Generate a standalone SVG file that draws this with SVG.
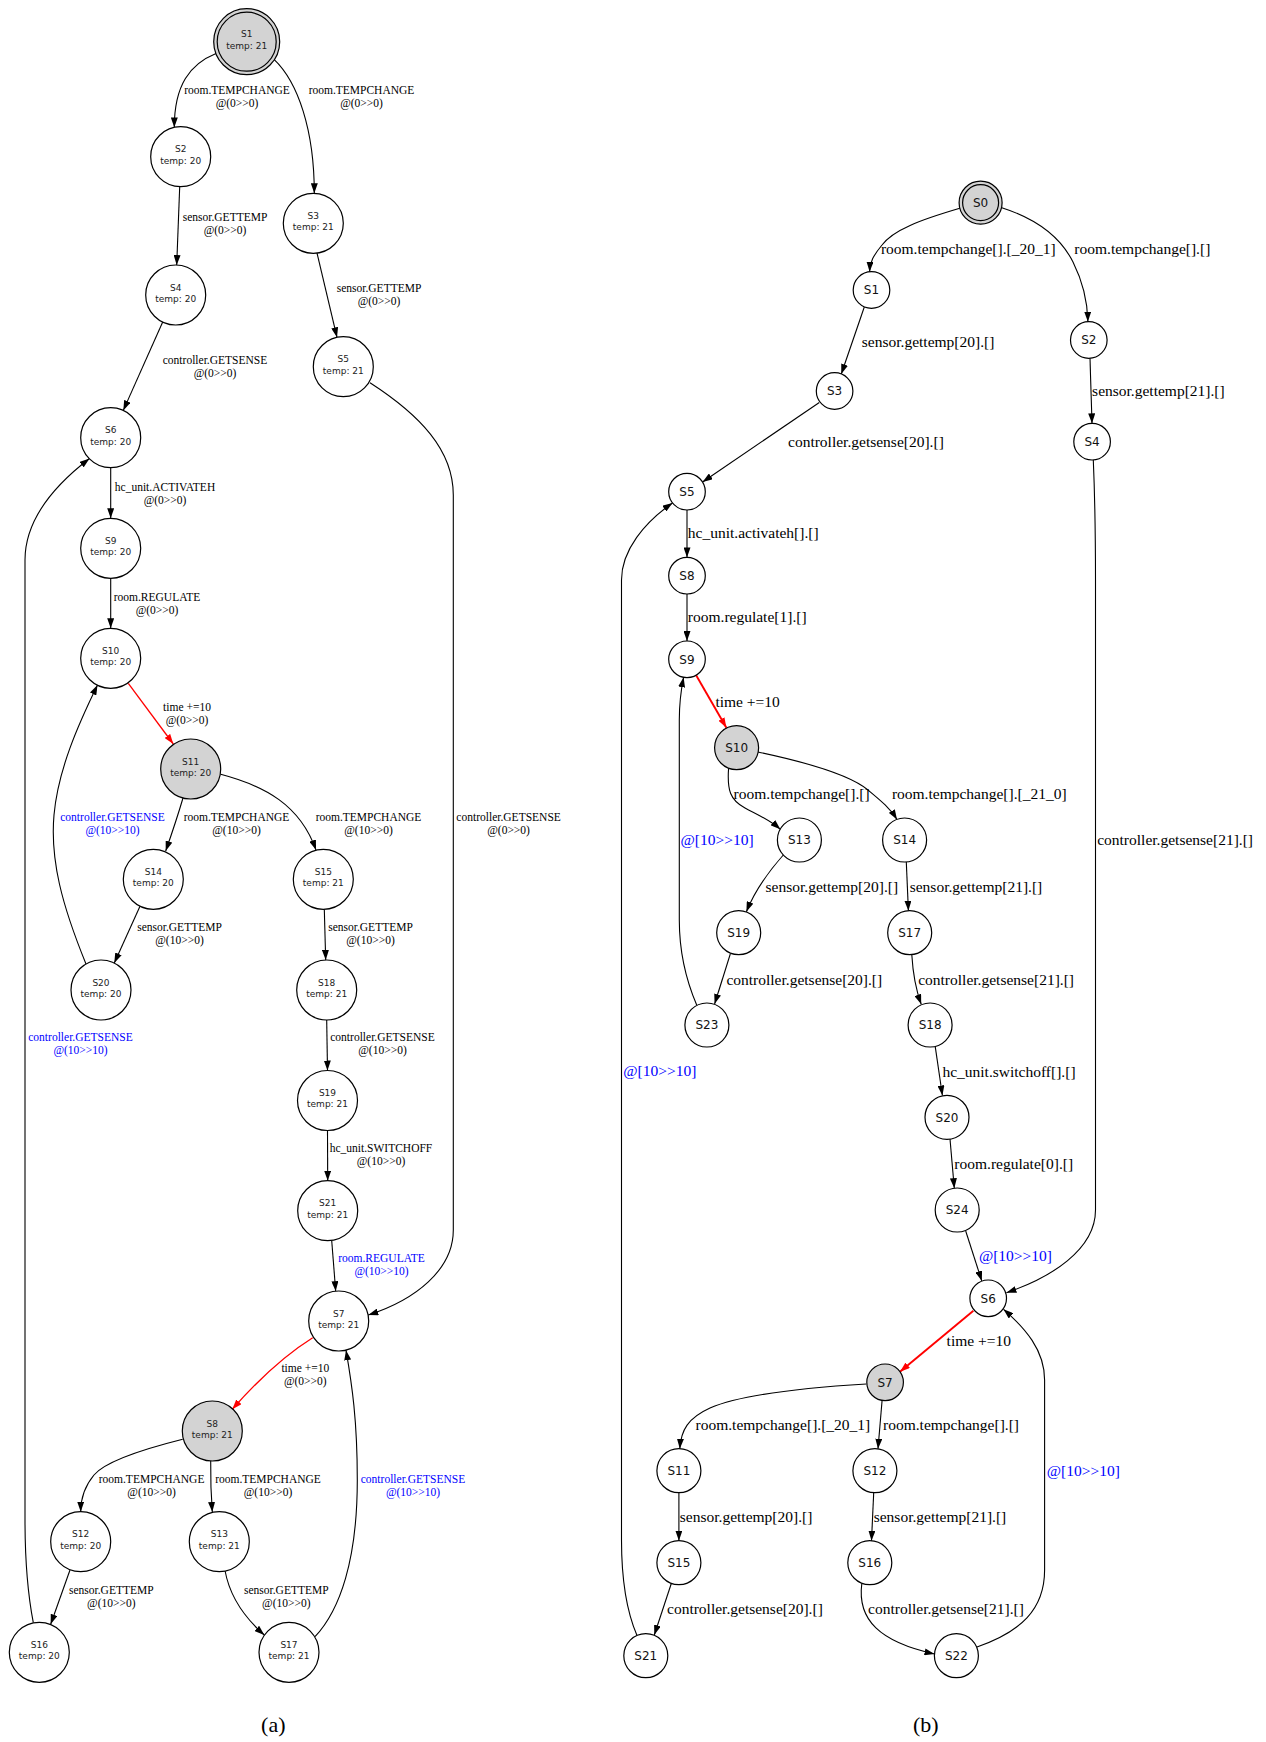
<svg xmlns="http://www.w3.org/2000/svg" width="1266" height="1742" viewBox="0 0 1266 1742">
<style>
.n{fill:#fff;stroke:#000;stroke-width:1.2}
.g{fill:#d3d3d3;stroke:#000;stroke-width:1.2}
.e{fill:none;stroke:#000;stroke-width:1.1;marker-end:url(#arr)}
.r{fill:none;stroke:#f00;stroke-width:1.3;marker-end:url(#arrR)}
.r2{fill:none;stroke:#f00;stroke-width:1.9;marker-end:url(#arrR)}
.tl{font-family:"DejaVu Sans",Verdana,sans-serif;font-size:9px;fill:#222;text-anchor:middle}
.tr{font-family:"DejaVu Sans",Verdana,sans-serif;font-size:12px;fill:#111;text-anchor:middle}
.la{font-family:"Liberation Serif","Times New Roman",serif;font-size:11.5px;fill:#000;text-anchor:middle}
.lb{font-family:"Liberation Serif","Times New Roman",serif;font-size:15.5px;fill:#000}
.blue{fill:#00f}
.cap{font-family:"Liberation Serif","Times New Roman",serif;font-size:22px;fill:#000;text-anchor:middle}
</style>
<defs>
<marker id="arr" viewBox="0 0 10 7" refX="10" refY="3.5" markerWidth="10" markerHeight="7" markerUnits="userSpaceOnUse" orient="auto"><path d="M0,0 L10,3.5 L0,7 z" fill="#000"/></marker>
<marker id="arrR" viewBox="0 0 10 7" refX="10" refY="3.5" markerWidth="10" markerHeight="7" markerUnits="userSpaceOnUse" orient="auto"><path d="M0,0 L10,3.5 L0,7 z" fill="#f00"/></marker>
</defs>
<rect width="1266" height="1742" fill="#fff"/>

<!-- ===== Graph (a) connectors ===== -->
<g id="connectors-a">
<path class="e" d="M216,53.5 C190,64 174.3,85 174.3,127.4"/>
<path class="e" d="M274,59.3 C298,82 314.3,130 314.3,193.3"/>
<path class="e" d="M179.7,186.7 L176.7,265"/>
<path class="e" d="M317,253 L337,337.3"/>
<path class="e" d="M162.7,322 L123.3,410.4"/>
<path class="e" d="M110.7,467.7 L110.7,518.3"/>
<path class="e" d="M110.7,578.3 L110.7,628.3"/>
<path class="r" d="M128.3,683.3 L173.3,744"/>
<path class="e" d="M183,798 C178,815 172,833 165.7,851"/>
<path class="e" d="M220.7,774.3 C265,786 300,805 316,850"/>
<path class="e" d="M140,906.3 L114.3,963"/>
<path class="e" d="M324.3,909.3 L325.7,960"/>
<path class="e" d="M326.7,1020 L327.5,1070.5"/>
<path class="e" d="M86,964 C62,905 50,860 54,815 C58,770 78,725 97.5,685"/>
<path class="e" d="M33.3,1622.7 C27,1590 25,1560 25,1520 L25,560 C25,520 55,485 89.5,458.5"/>
<path class="e" d="M327.5,1130.5 L327.7,1180.7"/>
<path class="e" d="M331.7,1240.5 L335.7,1291.2"/>
<path class="e" d="M370,382.7 C420,415 453.3,450 453.3,495 L453.3,1230 C453.3,1270 415,1300 368.3,1315"/>
<path class="r" d="M312.7,1337.7 C285,1355 258,1380 232.3,1409.3"/>
<path class="e" d="M182.7,1439.3 C140,1450 105,1462 94,1475 C84,1487 80.7,1498 80.7,1511.7"/>
<path class="e" d="M210.7,1461 C210.5,1480 211,1495 212.3,1512"/>
<path class="e" d="M70,1570 L50.7,1624.3"/>
<path class="e" d="M225,1570.5 C230,1598 245,1618 264.3,1635"/>
<path class="e" d="M315,1636.7 C340,1610 357.3,1560 357.3,1480 C357.3,1420 352,1385 346,1350.2"/>
</g>

<g id="edge-labels-a">
<text class="la" x="237" y="94">room.TEMPCHANGE<tspan x="237" dy="13.3">@(0&gt;&gt;0)</tspan></text>
<text class="la" x="361.5" y="94">room.TEMPCHANGE<tspan x="361.5" dy="13.3">@(0&gt;&gt;0)</tspan></text>
<text class="la" x="225" y="220.5">sensor.GETTEMP<tspan x="225" dy="13.3">@(0&gt;&gt;0)</tspan></text>
<text class="la" x="379" y="292">sensor.GETTEMP<tspan x="379" dy="13.3">@(0&gt;&gt;0)</tspan></text>
<text class="la" x="215" y="363.5">controller.GETSENSE<tspan x="215" dy="13.3">@(0&gt;&gt;0)</tspan></text>
<text class="la" x="165" y="490.5">hc_unit.ACTIVATEH<tspan x="165" dy="13.3">@(0&gt;&gt;0)</tspan></text>
<text class="la" x="157" y="600.5">room.REGULATE<tspan x="157" dy="13.3">@(0&gt;&gt;0)</tspan></text>
<text class="la" x="187" y="710.5">time +=10<tspan x="187" dy="13.3">@(0&gt;&gt;0)</tspan></text>
<text class="la" x="236.5" y="820.5">room.TEMPCHANGE<tspan x="236.5" dy="13.3">@(10&gt;&gt;0)</tspan></text>
<text class="la" x="368.5" y="820.5">room.TEMPCHANGE<tspan x="368.5" dy="13.3">@(10&gt;&gt;0)</tspan></text>
<text class="la" x="179.5" y="930.5">sensor.GETTEMP<tspan x="179.5" dy="13.3">@(10&gt;&gt;0)</tspan></text>
<text class="la" x="370.5" y="930.5">sensor.GETTEMP<tspan x="370.5" dy="13.3">@(10&gt;&gt;0)</tspan></text>
<text class="la" x="382.5" y="1041">controller.GETSENSE<tspan x="382.5" dy="13.3">@(10&gt;&gt;0)</tspan></text>
<text class="la blue" x="112.5" y="820.5">controller.GETSENSE<tspan x="112.5" dy="13.3">@(10&gt;&gt;10)</tspan></text>
<text class="la blue" x="80.5" y="1041">controller.GETSENSE<tspan x="80.5" dy="13.3">@(10&gt;&gt;10)</tspan></text>
<text class="la" x="381" y="1152">hc_unit.SWITCHOFF<tspan x="381" dy="13.3">@(10&gt;&gt;0)</tspan></text>
<text class="la blue" x="381.5" y="1262">room.REGULATE<tspan x="381.5" dy="13.3">@(10&gt;&gt;10)</tspan></text>
<text class="la" x="508.6" y="821">controller.GETSENSE<tspan x="508.6" dy="13.3">@(0&gt;&gt;0)</tspan></text>
<text class="la" x="305.3" y="1372">time +=10<tspan x="305.3" dy="13.3">@(0&gt;&gt;0)</tspan></text>
<text class="la" x="151.6" y="1483">room.TEMPCHANGE<tspan x="151.6" dy="13.3">@(10&gt;&gt;0)</tspan></text>
<text class="la" x="268" y="1483">room.TEMPCHANGE<tspan x="268" dy="13.3">@(10&gt;&gt;0)</tspan></text>
<text class="la" x="111.3" y="1593.5">sensor.GETTEMP<tspan x="111.3" dy="13.3">@(10&gt;&gt;0)</tspan></text>
<text class="la" x="286.3" y="1593.5">sensor.GETTEMP<tspan x="286.3" dy="13.3">@(10&gt;&gt;0)</tspan></text>
<text class="la blue" x="413" y="1483">controller.GETSENSE<tspan x="413" dy="13.3">@(10&gt;&gt;10)</tspan></text>
</g>

<!-- ===== Graph (a) nodes ===== -->
<g id="a-S1"><circle class="g" cx="246.7" cy="41.7" r="33"/><circle class="g" cx="246.7" cy="41.7" r="29.5"/><text class="tl" x="246.7" y="37.2">S1</text><text class="tl" x="246.7" y="48.5">temp: 21</text></g>
<g id="a-S2"><circle class="n" cx="180.7" cy="156.7" r="30"/><text class="tl" x="180.7" y="152.2">S2</text><text class="tl" x="180.7" y="163.5">temp: 20</text></g>
<g id="a-S3"><circle class="n" cx="313.3" cy="223.3" r="30"/><text class="tl" x="313.3" y="218.8">S3</text><text class="tl" x="313.3" y="230.1">temp: 21</text></g>
<g id="a-S4"><circle class="n" cx="175.7" cy="295" r="30"/><text class="tl" x="175.7" y="290.5">S4</text><text class="tl" x="175.7" y="301.8">temp: 20</text></g>
<g id="a-S5"><circle class="n" cx="343.3" cy="366.7" r="30"/><text class="tl" x="343.3" y="362.2">S5</text><text class="tl" x="343.3" y="373.5">temp: 21</text></g>
<g id="a-S6"><circle class="n" cx="110.7" cy="437.7" r="30"/><text class="tl" x="110.7" y="433.2">S6</text><text class="tl" x="110.7" y="444.5">temp: 20</text></g>
<g id="a-S9"><circle class="n" cx="110.7" cy="548.3" r="30"/><text class="tl" x="110.7" y="543.8">S9</text><text class="tl" x="110.7" y="555.1">temp: 20</text></g>
<g id="a-S10"><circle class="n" cx="110.7" cy="658.3" r="30"/><text class="tl" x="110.7" y="653.8">S10</text><text class="tl" x="110.7" y="665.1">temp: 20</text></g>
<g id="a-S11"><circle class="g" cx="190.7" cy="769" r="30"/><text class="tl" x="190.7" y="764.5">S11</text><text class="tl" x="190.7" y="775.8">temp: 20</text></g>
<g id="a-S14"><circle class="n" cx="153.3" cy="879.3" r="30"/><text class="tl" x="153.3" y="874.8">S14</text><text class="tl" x="153.3" y="886.1">temp: 20</text></g>
<g id="a-S15"><circle class="n" cx="323.3" cy="879.3" r="30"/><text class="tl" x="323.3" y="874.8">S15</text><text class="tl" x="323.3" y="886.1">temp: 21</text></g>
<g id="a-S20"><circle class="n" cx="101" cy="990" r="30"/><text class="tl" x="101" y="985.5">S20</text><text class="tl" x="101" y="996.8">temp: 20</text></g>
<g id="a-S18"><circle class="n" cx="326.7" cy="990" r="30"/><text class="tl" x="326.7" y="985.5">S18</text><text class="tl" x="326.7" y="996.8">temp: 21</text></g>
<g id="a-S19"><circle class="n" cx="327.5" cy="1100.5" r="30"/><text class="tl" x="327.5" y="1096">S19</text><text class="tl" x="327.5" y="1107.3">temp: 21</text></g>
<g id="a-S21"><circle class="n" cx="327.7" cy="1210.7" r="30"/><text class="tl" x="327.7" y="1206.2">S21</text><text class="tl" x="327.7" y="1217.5">temp: 21</text></g>
<g id="a-S7"><circle class="n" cx="338.7" cy="1321" r="30"/><text class="tl" x="338.7" y="1316.5">S7</text><text class="tl" x="338.7" y="1327.8">temp: 21</text></g>
<g id="a-S8"><circle class="g" cx="212.3" cy="1431" r="30"/><text class="tl" x="212.3" y="1426.5">S8</text><text class="tl" x="212.3" y="1437.8">temp: 21</text></g>
<g id="a-S12"><circle class="n" cx="80.7" cy="1541.7" r="30"/><text class="tl" x="80.7" y="1537.2">S12</text><text class="tl" x="80.7" y="1548.5">temp: 20</text></g>
<g id="a-S13"><circle class="n" cx="219.3" cy="1541.7" r="30"/><text class="tl" x="219.3" y="1537.2">S13</text><text class="tl" x="219.3" y="1548.5">temp: 21</text></g>
<g id="a-S16"><circle class="n" cx="39.3" cy="1652.3" r="30"/><text class="tl" x="39.3" y="1647.8">S16</text><text class="tl" x="39.3" y="1659.1">temp: 20</text></g>
<g id="a-S17"><circle class="n" cx="289" cy="1652.3" r="30"/><text class="tl" x="289" y="1647.8">S17</text><text class="tl" x="289" y="1659.1">temp: 21</text></g>

<!-- ===== Graph (b) connectors ===== -->
<g id="connectors-b">
<path class="e" d="M959.8,208.3 C920,220 893,230 882,245 C873,256 870,262 869.6,271.7"/>
<path class="e" d="M1001.8,207.7 C1040,220 1062,240 1073,262 C1083,282 1087.5,300 1087.9,321.7"/>
<path class="e" d="M864.3,307 L841.3,374"/>
<path class="e" d="M1090,358.3 L1092,423.4"/>
<path class="e" d="M819.3,402.5 L702.6,482"/>
<path class="e" d="M1093.3,460 C1095,500 1095.5,540 1095.5,580 L1095.5,1210 C1095.5,1250 1050,1278 1006.4,1292.7"/>
<path class="e" d="M687,510 L687,557.4"/>
<path class="e" d="M687,594 L687,641"/>
<path class="r2" d="M696,675 L726.4,727.7"/>
<path class="e" d="M728.6,768 C727,790 730,800 745,808 C758,815 770,820 780.3,829.3"/>
<path class="e" d="M758,752 C810,763 850,775 868,790 C880,800 890,808 897,819.5"/>
<path class="e" d="M783.3,855 C770,870 755,890 746.4,911.7"/>
<path class="e" d="M906.3,862 L908.4,910.7"/>
<path class="e" d="M730.3,954 L714.6,1004"/>
<path class="e" d="M911.8,954.7 C913,975 916,990 921.2,1004.3"/>
<path class="e" d="M696.7,1005 C686,980 679.3,950 679.3,920 L679.3,720 C679.3,700 681,690 683.6,677.3"/>
<path class="e" d="M935.2,1046.3 L942.4,1095.5"/>
<path class="e" d="M950,1139 L954.3,1188.2"/>
<path class="e" d="M965.7,1231 L981.8,1281"/>
<path class="e" d="M637,1635.5 C626,1610 621.5,1580 621.5,1540 L621.5,580 C621.5,550 645,522 672.5,503"/>
<path class="r2" d="M973.4,1310.7 L900,1371.7"/>
<path class="e" d="M866.4,1384 C800,1388 740,1395 710,1408 C688,1418 681,1430 679.8,1448.7"/>
<path class="e" d="M882.1,1400.3 L878,1448.7"/>
<path class="e" d="M678.9,1492.7 L678.9,1540.7"/>
<path class="e" d="M873.7,1492.7 L871.5,1540.7"/>
<path class="e" d="M671.3,1583.5 L654.3,1635"/>
<path class="e" d="M861.8,1583.5 C857,1620 880,1642 934.5,1654"/>
<path class="e" d="M977,1647 C1020,1632 1044.6,1610 1044.6,1570 L1044.6,1380 C1044.6,1350 1025,1328 1003.5,1309.3"/>
</g>

<g id="edge-labels-b">
<text class="lb" x="880.9" y="253.5">room.tempchange[].[_20_1]</text>
<text class="lb" x="1074.3" y="253.5">room.tempchange[].[]</text>
<text class="lb" x="861.8" y="347">sensor.gettemp[20].[]</text>
<text class="lb" x="1092.1" y="395.5">sensor.gettemp[21].[]</text>
<text class="lb" x="788" y="447">controller.getsense[20].[]</text>
<text class="lb" x="1097.2" y="844.5">controller.getsense[21].[]</text>
<text class="lb" x="687.8" y="537.5">hc_unit.activateh[].[]</text>
<text class="lb" x="687.8" y="622">room.regulate[1].[]</text>
<text class="lb" x="715.4" y="706.5">time +=10</text>
<text class="lb" x="733.6" y="798.5">room.tempchange[].[]</text>
<text class="lb" x="891.9" y="798.5">room.tempchange[].[_21_0]</text>
<text class="lb blue" x="680.6" y="845">@[10&gt;&gt;10]</text>
<text class="lb" x="765.5" y="892">sensor.gettemp[20].[]</text>
<text class="lb" x="909.7" y="892">sensor.gettemp[21].[]</text>
<text class="lb" x="726.4" y="984.5">controller.getsense[20].[]</text>
<text class="lb" x="918.2" y="984.5">controller.getsense[21].[]</text>
<text class="lb blue" x="623.3" y="1075.5">@[10&gt;&gt;10]</text>
<text class="lb" x="942.4" y="1076.5">hc_unit.switchoff[].[]</text>
<text class="lb" x="954.3" y="1168.5">room.regulate[0].[]</text>
<text class="lb blue" x="978.9" y="1260.5">@[10&gt;&gt;10]</text>
<text class="lb" x="946.6" y="1345.5">time +=10</text>
<text class="lb" x="695.5" y="1429.5">room.tempchange[].[_20_1]</text>
<text class="lb" x="883" y="1429.5">room.tempchange[].[]</text>
<text class="lb blue" x="1046.8" y="1475.5">@[10&gt;&gt;10]</text>
<text class="lb" x="679.8" y="1522">sensor.gettemp[20].[]</text>
<text class="lb" x="873.7" y="1522">sensor.gettemp[21].[]</text>
<text class="lb" x="667" y="1613.5">controller.getsense[20].[]</text>
<text class="lb" x="868.1" y="1613.5">controller.getsense[21].[]</text>
</g>

<!-- ===== Graph (b) nodes ===== -->
<g id="b-S0"><circle class="g" cx="980.6" cy="202.7" r="21.5"/><circle class="g" cx="980.6" cy="202.7" r="18"/><text class="tr" x="980.6" y="207">S0</text></g>
<g id="b-S1"><circle class="n" cx="871.5" cy="290" r="18.3"/><text class="tr" x="871.5" y="294.3">S1</text></g>
<g id="b-S2"><circle class="n" cx="1088.8" cy="340" r="18.3"/><text class="tr" x="1088.8" y="344.3">S2</text></g>
<g id="b-S3"><circle class="n" cx="834.6" cy="391" r="18.3"/><text class="tr" x="834.6" y="395.3">S3</text></g>
<g id="b-S4"><circle class="n" cx="1092.1" cy="441.7" r="18.3"/><text class="tr" x="1092.1" y="446">S4</text></g>
<g id="b-S5"><circle class="n" cx="687" cy="491.7" r="18.3"/><text class="tr" x="687" y="496">S5</text></g>
<g id="b-S8"><circle class="n" cx="687" cy="575.7" r="18.3"/><text class="tr" x="687" y="580">S8</text></g>
<g id="b-S9"><circle class="n" cx="687" cy="659.3" r="18.3"/><text class="tr" x="687" y="663.6">S9</text></g>
<g id="b-S10"><circle class="g" cx="736.6" cy="747.7" r="22"/><text class="tr" x="736.6" y="752">S10</text></g>
<g id="b-S13"><circle class="n" cx="799.4" cy="840" r="22"/><text class="tr" x="799.4" y="844.3">S13</text></g>
<g id="b-S14"><circle class="n" cx="904.6" cy="840" r="22"/><text class="tr" x="904.6" y="844.3">S14</text></g>
<g id="b-S19"><circle class="n" cx="738.7" cy="932.7" r="22"/><text class="tr" x="738.7" y="937">S19</text></g>
<g id="b-S17"><circle class="n" cx="909.7" cy="932.7" r="22"/><text class="tr" x="909.7" y="937">S17</text></g>
<g id="b-S23"><circle class="n" cx="706.9" cy="1025" r="22"/><text class="tr" x="706.9" y="1029.3">S23</text></g>
<g id="b-S18"><circle class="n" cx="930.1" cy="1025" r="22"/><text class="tr" x="930.1" y="1029.3">S18</text></g>
<g id="b-S20"><circle class="n" cx="947" cy="1117.3" r="22"/><text class="tr" x="947" y="1121.6">S20</text></g>
<g id="b-S24"><circle class="n" cx="957.2" cy="1210" r="22"/><text class="tr" x="957.2" y="1214.3">S24</text></g>
<g id="b-S6"><circle class="n" cx="988.2" cy="1298.3" r="18.3"/><text class="tr" x="988.2" y="1302.6">S6</text></g>
<g id="b-S7"><circle class="g" cx="885.1" cy="1382.3" r="18.3"/><text class="tr" x="885.1" y="1386.6">S7</text></g>
<g id="b-S11"><circle class="n" cx="678.9" cy="1470.7" r="22"/><text class="tr" x="678.9" y="1475">S11</text></g>
<g id="b-S12"><circle class="n" cx="874.9" cy="1470.7" r="22"/><text class="tr" x="874.9" y="1475">S12</text></g>
<g id="b-S15"><circle class="n" cx="678.9" cy="1562.7" r="22"/><text class="tr" x="678.9" y="1567">S15</text></g>
<g id="b-S16"><circle class="n" cx="869.8" cy="1562.7" r="22"/><text class="tr" x="869.8" y="1567">S16</text></g>
<g id="b-S21"><circle class="n" cx="645.8" cy="1655.7" r="22"/><text class="tr" x="645.8" y="1660">S21</text></g>
<g id="b-S22"><circle class="n" cx="956.4" cy="1655.7" r="22"/><text class="tr" x="956.4" y="1660">S22</text></g>

<g id="captions">
<text class="cap" x="273.3" y="1732">(a)</text>
<text class="cap" x="925.8" y="1732">(b)</text>
</g>
</svg>
